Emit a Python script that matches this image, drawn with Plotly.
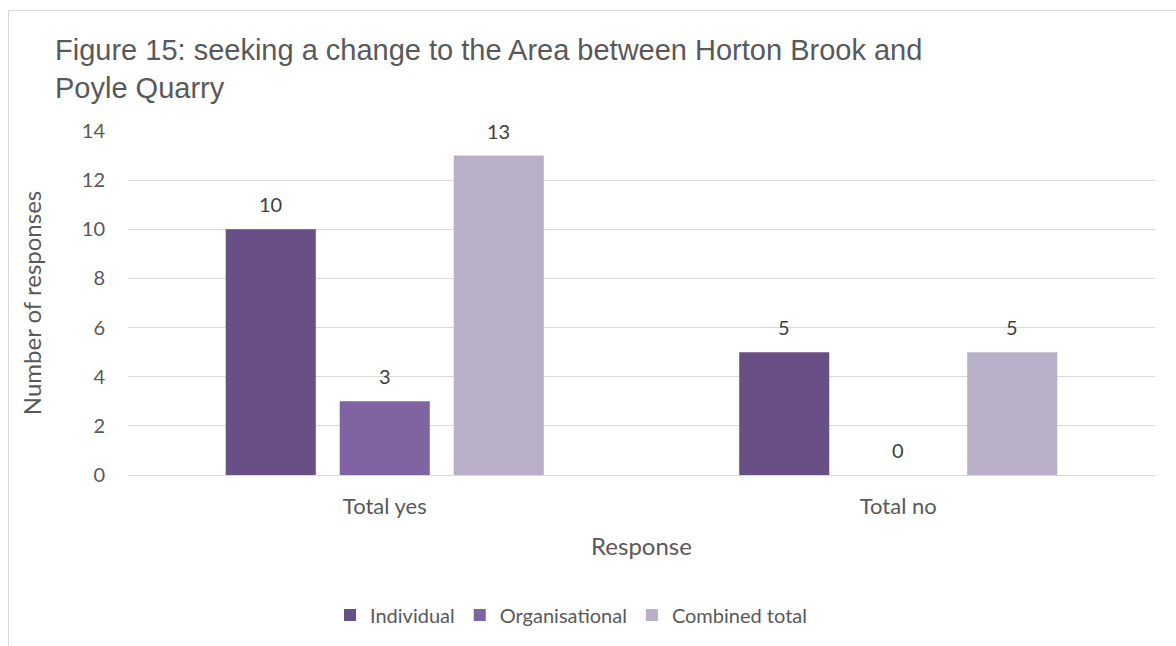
import plotly.graph_objects as go

# Survey responses on the Horton Brook / Poyle Quarry area
categories = ["Total yes", "Total no"]
series_names = ["Individual", "Organisational", "Combined total"]
individual = [10, 5]
organisational = [3, 0]
combined_total = [13, 5]
y_ticks = [0, 2, 4, 6, 8, 10, 12, 14]

colors = ["#684F85", "#8064A2", "#B9AFC9"]
values = [individual, organisational, combined_total]

W, H = 1176, 646
ML, MR, MT, MB = 128, 21, 131, 171
PW, PH = W - ML - MR, H - MT - MB

BARGAP = 0.334
BARGROUPGAP = 0.21

FAMILY = "Lato, 'Noto Sans', sans-serif"
label_font = dict(family=FAMILY, size=20, color="#404040")
ytick_font = dict(family=FAMILY, size=20, color="#595959")
xtick_font = dict(family=FAMILY, size=22, color="#595959")
title_font = dict(family=FAMILY, size=24, color="#595959")
legend_font = dict(family=FAMILY, size=20, color="#595959")

fig = go.Figure()
for name, vals, col in zip(series_names, values, colors):
    fig.add_trace(go.Bar(
        x=categories, y=vals, name=name,
        marker=dict(color=col, line=dict(width=0)),
    ))

# Value labels above each bar, placed at the grouped bar centres
slot = (1 - BARGAP) / len(series_names)
annotations = []
for i, vals in enumerate(values):
    offset = (i - (len(series_names) - 1) / 2) * slot
    for j, v in enumerate(vals):
        annotations.append(dict(
            x=j + offset, y=v, xref="x", yref="y",
            text=str(v), showarrow=False, font=label_font,
            yanchor="middle", yshift=25,
        ))


def px_x(x):
    return (x - ML) / PW


def px_y(y):
    return (H - MB - y) / PH


fig.update_layout(
    width=W, height=H,
    margin=dict(l=ML, r=MR, t=MT, b=MB),
    paper_bgcolor="white", plot_bgcolor="white",
    barmode="group", bargap=BARGAP, bargroupgap=BARGROUPGAP,
    title=dict(
        text="Figure 15: seeking a change to the Area between Horton Brook and<br>Poyle Quarry",
        font=dict(family="'Liberation Sans', Arial, sans-serif", size=29, color="#595959"),
        x=55 / W, xanchor="left", y=1 - 60 / H, yanchor="top",
    ),
    xaxis=dict(
        title=dict(text="Response", font=title_font, standoff=20),
        tickfont=xtick_font, showgrid=False, showline=False, ticks="",
        ticklabelstandoff=16,
    ),
    yaxis=dict(
        title=dict(text="Number of responses", font=title_font, standoff=33),
        range=[0, 14], tickvals=y_ticks, tickfont=ytick_font,
        showgrid=True, gridcolor="#D9D9D9", gridwidth=1,
        zeroline=True, zerolinecolor="#D9D9D9", zerolinewidth=1,
        showline=False, ticks="", ticklabelstandoff=22,
    ),
    legend=dict(
        orientation="h", x=px_x(571), xanchor="center", y=px_y(615), yanchor="middle",
        font=legend_font, traceorder="normal",
    ),
    showlegend=True,
    annotations=annotations,
    shapes=[
        dict(type="line", xref="paper", yref="paper",
             x0=px_x(8.5), x1=px_x(W + 5), y0=px_y(10.5), y1=px_y(10.5),
             line=dict(color="#D9D9D9", width=1)),
        dict(type="line", xref="paper", yref="paper",
             x0=px_x(8.5), x1=px_x(8.5), y0=px_y(10.5), y1=px_y(H + 5),
             line=dict(color="#D9D9D9", width=1)),
    ],
)

fig.write_html("out.html")
